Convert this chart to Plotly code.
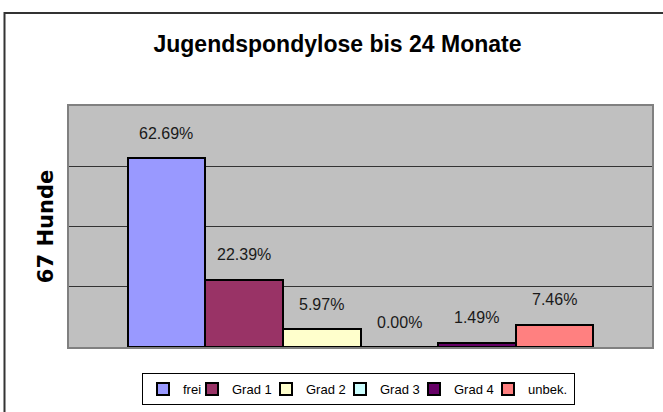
import plotly.graph_objects as go

categories = ["frei", "Grad 1", "Grad 2", "Grad 3", "Grad 4", "unbek."]
values = [62.69, 22.39, 5.97, 0.00, 1.49, 7.46]
colors = ["#9999FF", "#993366", "#FFFFCC", "#CCFFFF", "#660066", "#FF8080"]
title_text = "Jugendspondylose bis 24 Monate"
y_title = "67 Hunde"
y_ticks = [0, 20, 40, 60, 80]

# legend entry widths (px), styling only
legend_widths = [4, 29, 29, 29, 29, 41]

W, H = 663, 412
L, R, T, B = 69, 11, 106, 65
pw, ph = W - L - R, H - T - B

fig = go.Figure()
for cat, val, col, lw in zip(categories, values, colors, legend_widths):
    fig.add_trace(go.Bar(
        x=[cat], y=[val], name=cat, width=1, legendwidth=lw,
        marker=dict(color=col, line=dict(color="black", width=2)),
        hoverinfo="skip",
    ))

for cat, val in zip(categories, values):
    fig.add_annotation(
        x=cat, y=val, text=f"{val:.2f}%", showarrow=False,
        yshift=25, yanchor="middle",
        font=dict(family="Liberation Sans, Arial", size=16, color="#1a1a1a"),
    )

pad = 0.755
fig.update_layout(
    width=W, height=H,
    margin=dict(l=L, r=R, t=T, b=B, autoexpand=False),
    paper_bgcolor="white", plot_bgcolor="#C0C0C0",
    barmode="overlay", bargap=0,
    title=dict(text=title_text, x=337.5 / W, xanchor="center", xref="container",
               y=1 - 44 / H, yanchor="middle", yref="container",
               font=dict(family="Liberation Sans, Arial", size=23, color="black", weight="bold")),
    xaxis=dict(type="category", range=[-0.5 - pad, len(categories) - 0.5 + pad],
               showticklabels=False, showgrid=False, zeroline=False, ticks="",
               showline=True, mirror=True, linecolor="#808080", linewidth=2),
    yaxis=dict(range=[y_ticks[0], y_ticks[-1]], tickvals=y_ticks, showticklabels=False,
               showgrid=True, gridcolor="#333333", gridwidth=1, zeroline=False, ticks="",
               showline=True, mirror=True, linecolor="#808080", linewidth=2,
               title=dict(text=y_title, standoff=8,
                          font=dict(family="DejaVu Sans", size=21, color="black", weight="bold"))),
    legend=dict(orientation="h", x=(142 - L) / pw, xanchor="left",
                y=-(373 - (T + ph)) / ph, yanchor="top",
                bordercolor="black", borderwidth=1, bgcolor="white",
                font=dict(family="Liberation Sans, Arial", size=13, color="black"),
                itemwidth=30, traceorder="normal"),
    showlegend=True,
)

fig.add_shape(type="rect", xref="paper", yref="paper",
              x0=(4.5 - L) / pw, x1=1.2, y0=-0.5, y1=(T + ph - 13) / ph,
              line=dict(color="#333333", width=2), fillcolor="rgba(0,0,0,0)", layer="below")

fig.write_html("out.html", config={"displayModeBar": False},
               post_script="document.body.style.margin='0px';")
